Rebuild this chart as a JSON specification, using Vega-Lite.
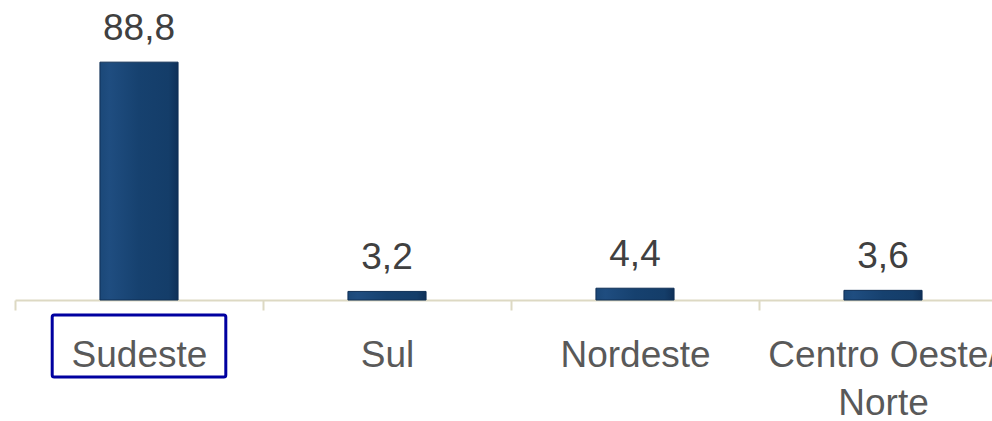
{
  "$schema": "https://vega.github.io/schema/vega-lite/v6.json",
  "autosize": "none",
  "width": 977,
  "height": 300,
  "padding": {"left": 15, "top": 0, "right": 0, "bottom": 121},
  "background": "white",
  "config": {"view": {"stroke": null}, "font": "Liberation Sans"},
  "data": {"values": [
    {"regiao": "Sudeste", "valor": 88.8, "rotulo": "88,8"},
    {"regiao": "Sul", "valor": 3.2, "rotulo": "3,2"},
    {"regiao": "Nordeste", "valor": 4.4, "rotulo": "4,4"},
    {"regiao": "Centro Oeste/Norte", "valor": 3.6, "rotulo": "3,6"}
  ]},
  "encoding": {
    "x": {
      "field": "regiao", "type": "nominal", "sort": null,
      "scale": {"paddingInner": 0, "paddingOuter": 0, "range": [0, 992]},
      "axis": {
        "title": null, "labelAngle": 0, "labelFontSize": 37, "labelColor": "#595959",
        "labelFont": "Liberation Sans", "labelPadding": 27, "labelLineHeight": 48, "labelLimit": 0,
        "labelExpr": "datum.label == 'Centro Oeste/Norte' ? ['Centro Oeste/', 'Norte'] : datum.label",
        "labelOverlap": false, "labelBound": false, "labelFlush": false,
        "tickBand": "extent", "tickSize": 10, "tickWidth": 2, "tickColor": "#ddd9c3",
        "domainColor": "#ddd9c3", "domainWidth": 2, "grid": false
      }
    },
    "y": {
      "field": "valor", "type": "quantitative",
      "scale": {"domain": [0, 112]},
      "axis": null
    }
  },
  "layer": [
    {
      "mark": {
        "type": "bar", "width": {"band": 0.315},
        "stroke": "#0f2f55", "strokeWidth": 1,
        "fill": {"gradient": "linear", "x1": 0, "y1": 0, "x2": 1, "y2": 0,
          "stops": [
            {"offset": 0, "color": "#1b4878"},
            {"offset": 0.12, "color": "#1f4d80"},
            {"offset": 0.5, "color": "#16416f"},
            {"offset": 0.88, "color": "#143d69"},
            {"offset": 1, "color": "#0f3058"}
          ]}
      }
    },
    {
      "mark": {"type": "text", "baseline": "alphabetic", "dy": -22, "fontSize": 37, "color": "#404040", "font": "Liberation Sans"},
      "encoding": {"text": {"field": "rotulo"}}
    },
    {
      "transform": [{"filter": "datum.regiao == 'Sudeste'"}],
      "mark": {"type": "bar", "width": {"band": 0.7}, "fill": null, "fillOpacity": 0, "stroke": "#0000a0", "strokeWidth": 3, "cornerRadius": 2, "clip": false},
      "encoding": {
        "y": {"datum": -5.6, "type": "quantitative"},
        "y2": {"datum": -28.7}
      }
    }
  ]
}
